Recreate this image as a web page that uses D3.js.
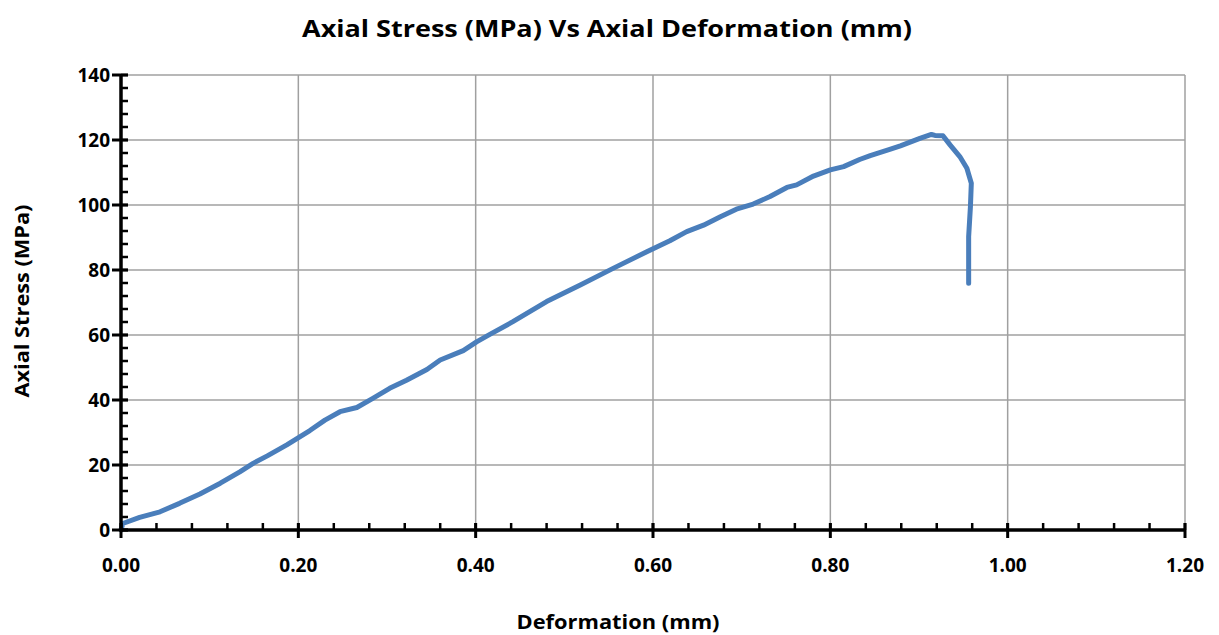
<!DOCTYPE html>
<html>
<head>
<meta charset="utf-8">
<script src="https://cdn.jsdelivr.net/npm/d3@7"></script>
<style>
  html, body { margin: 0; padding: 0; background: #fff; }
  svg { display: block; }
  text { font-family: "Open Sans", "Noto Sans", sans-serif; font-weight: bold; fill: #000; }
</style>
</head>
<body>
<svg id="chart" width="1219" height="635"></svg>
<script>
// Axial deformation (mm) and matching axial stress (MPa) readings
const deformation = [0.000, 0.002, 0.021, 0.044, 0.066, 0.089, 0.112, 0.134, 0.149, 0.165, 0.187,
  0.213, 0.230, 0.247, 0.266, 0.284, 0.303, 0.322, 0.345, 0.360, 0.386, 0.401, 0.416,
  0.442, 0.480, 0.518, 0.555, 0.593, 0.619, 0.638, 0.657, 0.676, 0.694, 0.713, 0.732,
  0.751, 0.762, 0.781, 0.800, 0.815, 0.833, 0.845, 0.867, 0.879, 0.901, 0.914, 0.918,
  0.927, 0.935, 0.946, 0.954, 0.959, 0.958, 0.956, 0.956];
const stress = [0.0, 2.0, 3.9, 5.6, 8.2, 11.1, 14.4, 17.9, 20.5, 22.8, 26.2,
  30.6, 33.8, 36.4, 37.7, 40.5, 43.6, 46.1, 49.4, 52.3, 55.2, 57.9, 60.2,
  64.1, 70.3, 75.4, 80.5, 85.6, 89.0, 91.8, 93.8, 96.4, 98.7, 100.3, 102.6,
  105.4, 106.2, 108.9, 110.8, 111.8, 114.0, 115.2, 117.1, 118.2, 120.5, 121.7, 121.4,
  121.3, 118.5, 114.9, 111.3, 106.7, 99.5, 90.3, 75.9];

// Axis ticks and labels
const xTicks = [0, 0.2, 0.4, 0.6, 0.8, 1.0, 1.2];
const yTicks = [0, 20, 40, 60, 80, 100, 120, 140];
const titleText = "Axial Stress (MPa) Vs Axial Deformation (mm)";
const xTitle = "Deformation (mm)";
const yTitle = "Axial Stress (MPa)";

const svg = d3.select("#chart");
const x = d3.scaleLinear().domain([0, 1.2]).range([121, 1185]);
const y = d3.scaleLinear().domain([0, 140]).range([530, 75]);

// gridlines
const grid = svg.append("g").attr("stroke", "#a0a0a0").attr("stroke-width", 1.5);
grid.selectAll("line.v").data(xTicks.slice(1)).join("line")
  .attr("x1", d => x(d)).attr("x2", d => x(d))
  .attr("y1", y(0)).attr("y2", y(140));
grid.selectAll("line.h").data(yTicks.slice(1)).join("line")
  .attr("x1", x(0)).attr("x2", x(1.2))
  .attr("y1", d => y(d)).attr("y2", d => y(d));

// curve
const line = d3.line().x((d, i) => x(deformation[i])).y(d => y(d));
svg.append("path").datum(stress)
  .attr("d", line)
  .attr("fill", "none")
  .attr("stroke", "#4a7ebb")
  .attr("stroke-width", 5)
  .attr("stroke-linejoin", "round")
  .attr("stroke-linecap", "round");

// axes
const ax = svg.append("g").attr("stroke", "#000");
ax.append("line").attr("x1", x(0)).attr("x2", x(1.2)).attr("y1", y(0)).attr("y2", y(0)).attr("stroke-width", 3.5);
ax.append("line").attr("x1", x(0)).attr("x2", x(0)).attr("y1", y(0) + 1.5).attr("y2", y(140)).attr("stroke-width", 3.5);

const xMinor = d3.range(0, 31).map(i => i * 0.04).filter(v => v <= 1.2001);
const yMinor = d3.range(0, 36).map(i => i * 4).filter(v => v <= 140);

ax.selectAll("line.xm").data(xMinor).join("line")
  .attr("x1", d => x(d)).attr("x2", d => x(d))
  .attr("y1", y(0)).attr("y2", y(0) - 7).attr("stroke-width", 2.5);
ax.selectAll("line.xM").data(xTicks).join("line")
  .attr("x1", d => x(d)).attr("x2", d => x(d))
  .attr("y1", y(0) - 7).attr("y2", y(0) + 8).attr("stroke-width", 3);
ax.selectAll("line.ym").data(yMinor).join("line")
  .attr("x1", x(0)).attr("x2", x(0) + 7)
  .attr("y1", d => y(d)).attr("y2", d => y(d)).attr("stroke-width", 2.5);
ax.selectAll("line.yM").data(yTicks).join("line")
  .attr("x1", x(0) - 9).attr("x2", x(0) + 7)
  .attr("y1", d => y(d)).attr("y2", d => y(d)).attr("stroke-width", 3);

// tick labels
svg.append("g").selectAll("text").data(xTicks).join("text")
  .attr("x", d => x(d)).attr("y", 572)
  .attr("text-anchor", "middle").attr("font-size", 19)
  .attr("textLength", 38).attr("lengthAdjust", "spacingAndGlyphs")
  .text(d => d3.format(".2f")(d));
svg.append("g").selectAll("text").data(yTicks).join("text")
  .attr("x", 110).attr("y", d => y(d)).attr("dy", "0.36em")
  .attr("text-anchor", "end").attr("font-size", 19)
  .text(d => d);

// titles
svg.append("text").attr("x", 607).attr("y", 37)
  .attr("text-anchor", "middle").attr("font-size", 24)
  .attr("textLength", 610).attr("lengthAdjust", "spacingAndGlyphs")
  .text(titleText);
svg.append("text").attr("x", 618).attr("y", 629)
  .attr("text-anchor", "middle").attr("font-size", 20)
  .attr("textLength", 203).attr("lengthAdjust", "spacingAndGlyphs")
  .text(xTitle);
svg.append("text").attr("transform", "translate(29,301) rotate(-90)")
  .attr("text-anchor", "middle").attr("font-size", 20)
  .attr("textLength", 193).attr("lengthAdjust", "spacingAndGlyphs")
  .text(yTitle);
</script>
</body>
</html>
